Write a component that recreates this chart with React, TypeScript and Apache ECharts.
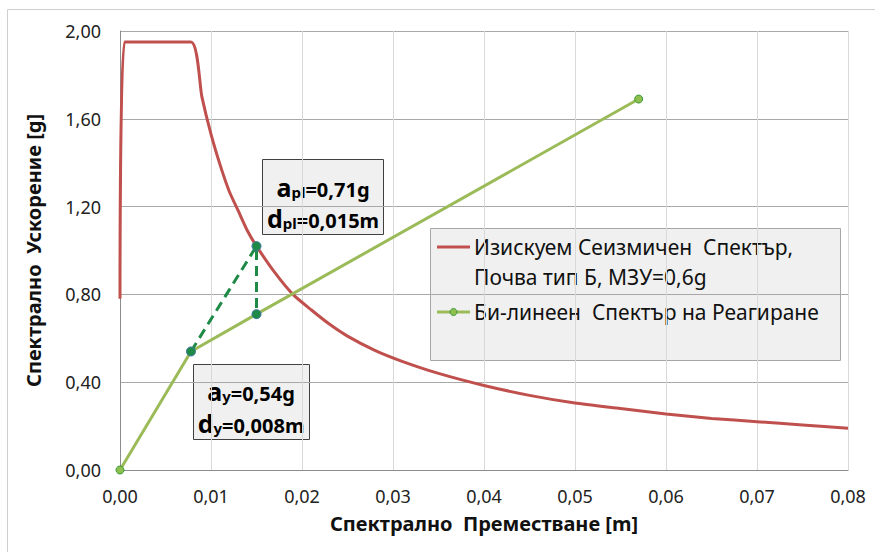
import React, { useEffect, useRef } from "react";
import * as echarts from "echarts";

// Demand spectrum (ADRS): displacement [m], acceleration [g]
const demandSd = [0, 0.0005, 0.0078, 0.009, 0.010, 0.011, 0.012, 0.013, 0.014, 0.015, 0.017, 0.019, 0.021, 0.023, 0.025, 0.028, 0.031, 0.035, 0.040, 0.045, 0.050, 0.055, 0.060, 0.065, 0.070, 0.075, 0.080];
const demandSa = [0.78, 1.95, 1.95, 1.70, 1.53, 1.39, 1.27, 1.18, 1.09, 1.02, 0.90, 0.80, 0.73, 0.665, 0.61, 0.545, 0.495, 0.44, 0.385, 0.34, 0.305, 0.28, 0.255, 0.235, 0.22, 0.205, 0.19];

// Bilinear capacity spectrum
const capacitySd = [0, 0.0078, 0.015, 0.057];
const capacitySa = [0, 0.54, 0.71, 1.69];

// Dashed construction lines
const dashSd = [0.0078, 0.015, 0.015];
const dashSa = [0.54, 1.02, 0.71];

// Axes
const xMin = 0, xMax = 0.08, xStep = 0.01;
const yMin = 0, yMax = 2.0, yStep = 0.4;

const xTitle = "Спектрално  Преместване [m]";
const yTitle = "Спектрално  Ускорение [g]";
const legendDemand1 = "Изискуем Сеизмичен  Спектър,";
const legendDemand2 = "Почва тип Б, МЗУ=0,6g";
const legendCapacity = "Би-линеен  Спектър на Реагиране";

const FONT = "'Noto Sans', 'Open Sans', sans-serif";
const RED = "#C0504D";
const GREEN = "#9BBB59";
const DARK = "#1E8A45";

const fmt = (v: number) => v.toFixed(2).replace(".", ",");

export default function App() {
  const ref = useRef<HTMLDivElement>(null);
  useEffect(() => {
    if (!ref.current) return;
    const chart = echarts.init(ref.current, undefined, { renderer: "svg" });
    const zip = (xs: number[], ys: number[]) => xs.map((x, i) => [x, ys[i]]);
    const rich = {
      big: { fontSize: 25, fontWeight: "bold", fontFamily: FONT, color: "#111", verticalAlign: "bottom", lineHeight: 30 },
      sub: { fontSize: 15, fontWeight: "bold", fontFamily: FONT, color: "#111", verticalAlign: "bottom", lineHeight: 26 },
      mid: { fontSize: 20, fontWeight: "bold", fontFamily: FONT, color: "#111", verticalAlign: "bottom", lineHeight: 28 },
    };
    const option: any = {
      animation: false,
      backgroundColor: "#ffffff",
      grid: { left: 120, right: 27, top: 31, bottom: 82, containLabel: false },
      xAxis: {
        type: "value",
        min: xMin,
        max: xMax,
        interval: xStep,
        name: xTitle,
        nameLocation: "middle",
        nameGap: 43,
        nameTextStyle: { fontFamily: FONT, fontSize: 20, fontWeight: "bold", color: "#111" },
        axisLine: { show: true, lineStyle: { color: "#8c8c8c", width: 1 } },
        axisTick: { show: false },
        axisLabel: { formatter: fmt, fontFamily: FONT, fontSize: 18, color: "#222", margin: 17 },
        splitLine: { show: true, lineStyle: { color: "#d9d9d9", width: 1 } },
      },
      yAxis: {
        type: "value",
        min: yMin,
        max: yMax,
        interval: yStep,
        name: yTitle,
        nameLocation: "middle",
        nameGap: 77,
        nameRotate: 90,
        nameTextStyle: { fontFamily: FONT, fontSize: 20, fontWeight: "bold", color: "#111" },
        axisLine: { show: true, lineStyle: { color: "#8c8c8c", width: 1 } },
        axisTick: { show: false },
        axisLabel: { formatter: fmt, fontFamily: FONT, fontSize: 18, color: "#222", margin: 19 },
        splitLine: { show: true, lineStyle: { color: "#a8a8a8", width: 1 } },
      },
      series: [
        {
          name: legendDemand1 + " " + legendDemand2,
          type: "line",
          data: zip(demandSd, demandSa),
          showSymbol: false,
          symbol: "none",
          smooth: 0.2,
          lineStyle: { color: RED, width: 3 },
          z: 2,
        },
        {
          name: legendCapacity,
          type: "line",
          data: zip(capacitySd, capacitySa),
          symbol: "circle",
          symbolSize: 8,
          itemStyle: { color: "#8DBF4E", borderColor: "#3E9A3A", borderWidth: 1 },
          lineStyle: { color: GREEN, width: 3 },
          z: 3,
        },
        {
          name: "dash",
          type: "line",
          data: zip(dashSd, dashSa),
          symbol: "circle",
          symbolSize: 9,
          itemStyle: { color: DARK, borderColor: "#3F78A8", borderWidth: 1 },
          lineStyle: { color: DARK, width: 3, type: [10, 6] },
          z: 4,
        },
      ],
      graphic: [
        {
          type: "rect",
          shape: { x: 7.5, y: 9.5, width: 880, height: 560 },
          style: { fill: "none", stroke: "#cfcfcf", lineWidth: 1 },
          silent: true,
          z: -10,
        },
        // annotation: plastic point
        {
          type: "group",
          left: 262,
          top: 159,
          z: 20,
          children: [
            {
              type: "rect",
              shape: { x: 0.5, y: 0.5, width: 121, height: 75 },
              style: { fill: "#f0f0f0", stroke: "#404040", lineWidth: 1 },
            },
            {
              type: "text",
              x: 61,
              y: 25,
              style: { text: "{big|a}{sub|pl}{mid|=0,71g}", rich, align: "center", verticalAlign: "middle" },
            },
            {
              type: "text",
              x: 61,
              y: 56,
              style: { text: "{big|d}{sub|pl}{mid|=0,015m}", rich, align: "center", verticalAlign: "middle" },
            },
          ],
        },
        // annotation: yield point
        {
          type: "group",
          left: 193,
          top: 364,
          z: 20,
          children: [
            {
              type: "rect",
              shape: { x: 0.5, y: 0.5, width: 116, height: 75 },
              style: { fill: "#f0f0f0", stroke: "#404040", lineWidth: 1 },
            },
            {
              type: "text",
              x: 58,
              y: 24,
              style: { text: "{big|a}{sub|y}{mid|=0,54g}", rich, align: "center", verticalAlign: "middle" },
            },
            {
              type: "text",
              x: 58,
              y: 56,
              style: { text: "{big|d}{sub|y}{mid|=0,008m}", rich, align: "center", verticalAlign: "middle" },
            },
          ],
        },
        // legend
        {
          type: "group",
          left: 430,
          top: 228,
          z: 20,
          children: [
            {
              type: "rect",
              shape: { x: 0.5, y: 0.5, width: 410, height: 132 },
              style: { fill: "#f0f0f0", stroke: "#a6a6a6", lineWidth: 1 },
            },
            {
              type: "line",
              shape: { x1: 7, y1: 19, x2: 40, y2: 19 },
              style: { stroke: RED, lineWidth: 3 },
            },
            {
              type: "text",
              x: 44,
              y: 19,
              style: { text: legendDemand1, fontFamily: FONT, fontSize: 21, fill: "#111", verticalAlign: "middle" },
            },
            {
              type: "text",
              x: 44,
              y: 49,
              style: { text: legendDemand2, fontFamily: FONT, fontSize: 21, fill: "#111", verticalAlign: "middle" },
            },
            {
              type: "line",
              shape: { x1: 7, y1: 84, x2: 40, y2: 84 },
              style: { stroke: GREEN, lineWidth: 3 },
            },
            {
              type: "circle",
              shape: { cx: 23.5, cy: 84, r: 3.5 },
              style: { fill: "#8DBF4E", stroke: "#3E9A3A", lineWidth: 1 },
            },
            {
              type: "text",
              x: 44,
              y: 84,
              style: { text: legendCapacity, fontFamily: FONT, fontSize: 21, fill: "#111", verticalAlign: "middle" },
            },
          ],
        },
      ],
    };
    chart.setOption(option);
    return () => chart.dispose();
  }, []);
  return <div ref={ref} style={{ width: 875, height: 552, position: "absolute", left: 0, top: 0 }} />;
}
